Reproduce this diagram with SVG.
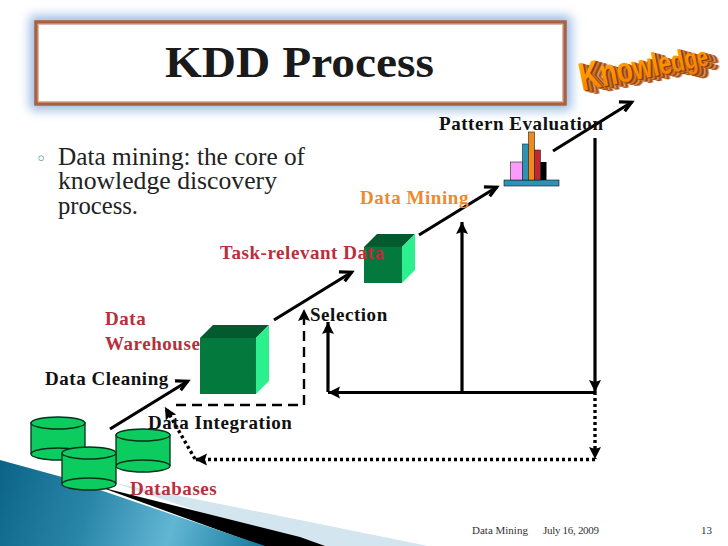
<svg xmlns="http://www.w3.org/2000/svg" xmlns:xlink="http://www.w3.org/1999/xlink" width="728" height="546" viewBox="0 0 728 546">
<style>
.lbl{font-family:"Liberation Serif","Times New Roman",serif;font-weight:700;font-size:19px;letter-spacing:.55px;fill:#111}
.red{fill:#b5303a}
.body{font-family:"Liberation Serif",serif;font-size:24.5px;fill:#222}
.foot{font-family:"Liberation Serif",serif;font-size:11px;fill:#333}
.cyl{fill:#0ccb5f;stroke:#06301a;stroke-width:1.3}
.line{fill:none;stroke:#000;stroke-width:3.2}
.open{marker-end:url(#open)}
.solid{marker-end:url(#solid)}
.dot{stroke-dasharray:3 3;stroke-width:3.4}
.dash{stroke-dasharray:10 6;stroke-width:2.4}
</style>
<defs>
<marker id="open" markerUnits="userSpaceOnUse" markerWidth="24" markerHeight="24" refX="19" refY="12" orient="auto"><path d="M8 5L18.500 12L8 16" fill="none" stroke="#000" stroke-width="3.2"/></marker>
<marker id="solid" markerUnits="userSpaceOnUse" markerWidth="14" markerHeight="14" refX="12" refY="7" orient="auto"><path d="M0 1L12 7L0 13L2 7Z" fill="#000"/></marker>
<filter id="glow" x="-10%" y="-30%" width="120%" height="160%"><feGaussianBlur stdDeviation="5.500"/></filter>
<linearGradient id="swoosh" x1="0" y1="460" x2="270" y2="546" gradientUnits="userSpaceOnUse"><stop offset="0" stop-color="#0b6488"/><stop offset=".35" stop-color="#2a86a8"/><stop offset=".65" stop-color="#62b6d4"/><stop offset="1" stop-color="#0f7598"/></linearGradient>
<linearGradient id="face" x1="0" y1="0" x2="0" y2="1"><stop offset="0" stop-color="#ffb020"/><stop offset=".5" stop-color="#ff9400"/><stop offset="1" stop-color="#f07800"/></linearGradient>
<text id="kw" x="0" y="0" font-family="Liberation Sans,Arial,sans-serif" font-weight="700" textLength="130" lengthAdjust="spacingAndGlyphs"><tspan font-size="40">K</tspan><tspan font-size="38">n</tspan><tspan font-size="36">o</tspan><tspan font-size="35">w</tspan><tspan font-size="33">l</tspan><tspan font-size="32">e</tspan><tspan font-size="30">d</tspan><tspan font-size="29">g</tspan><tspan font-size="27">e</tspan></text>
</defs>
<rect width="728" height="546" fill="#fff"/>

<g id="swoosh-band">
<path d="M115 483L300 520L428 546L300 546Z" fill="#d3e5ee"/>
<path d="M100 487L300 537L325 546L262 546Z" fill="#000"/>
<path d="M0 460L62 477L100 490L265 546L0 546Z" fill="url(#swoosh)"/>
</g>

<g id="title">
<rect x="30" y="16" width="541" height="94" fill="#7aa6dc" opacity=".8" filter="url(#glow)"/>
<rect x="36" y="22" width="529" height="82" fill="#fff" stroke="#a9613f" stroke-width="3.5"/>
<rect x="38.500" y="24.500" width="524" height="77" fill="none" stroke="#d9b9a5" stroke-width="1"/>
<text x="165" y="77" font-family="Liberation Serif,serif" font-weight="700" font-size="45" fill="#1a1a1a" textLength="269" lengthAdjust="spacingAndGlyphs">KDD Process</text>
</g>

<g id="bullet">
<text x="36" y="165" font-family="DejaVu Sans,sans-serif" font-size="18" fill="#2f86a6">◦</text>
<text class="body" x="58" y="165" textLength="247" lengthAdjust="spacingAndGlyphs">Data mining: the core of</text>
<text class="body" x="58" y="189" textLength="219" lengthAdjust="spacingAndGlyphs">knowledge discovery</text>
<text class="body" x="58" y="214" textLength="80" lengthAdjust="spacingAndGlyphs">process.</text>
</g>

<g id="label-warehouse">
<text class="lbl red" x="105" y="325">Data</text>
<text class="lbl red" x="105" y="350">Warehouse</text>
</g>

<g id="connectors">
<path class="line open" d="M110 429L188 381"/>
<path class="line open" d="M274 320L352 272"/>
<path class="line open" d="M419 235L497 187"/>
<path class="line open" d="M553 151L632 102"/>
<path class="line dash solid" d="M176 405H304V309"/>
<path class="line solid" d="M595 392.500H328"/>
<path class="line solid" d="M328 392V322"/>
<path class="line solid" d="M462 392V222"/>
<path class="line solid" d="M595 138V392"/>
<path class="line dot solid" d="M595 392V459"/>
<path class="line dot solid" d="M595 459.500H195"/>
<path class="line dot solid" d="M195 459L165 407"/>
</g>

<g id="databases">
<g id="db1"><path class="cyl" d="M31 423V454A27 6 0 0 0 85 454V423Z"/><ellipse class="cyl" cx="58" cy="423" rx="27" ry="6"/><path d="M31 454A27 6 0 0 1 85 454" fill="none" stroke="#06301a" stroke-width="1.300"/></g>
<g id="db3"><path class="cyl" d="M116 435V466A27 6 0 0 0 170 466V435Z"/><ellipse class="cyl" cx="143" cy="435" rx="27" ry="6"/><path d="M116 466A27 6 0 0 1 170 466" fill="none" stroke="#06301a" stroke-width="1.300"/></g>
<g id="db2"><path class="cyl" d="M62 453V484A27 6 0 0 0 116 484V453Z"/><ellipse class="cyl" cx="89" cy="453" rx="27" ry="6"/><path d="M62 484A27 6 0 0 1 116 484" fill="none" stroke="#06301a" stroke-width="1.300"/></g>
</g>

<g id="warehouse">
<rect x="200" y="338" width="56" height="56" fill="#04793e"/>
<path d="M200 338L213 325H269L256 338Z" fill="#035a2e"/>
<path d="M256 338L269 325V381L256 394Z" fill="#2cf08e"/>
</g>

<g id="task-data">
<rect x="364" y="247" width="38" height="36" fill="#04793e"/>
<path d="M364 247L377 234H415L402 247Z" fill="#035a2e"/>
<path d="M402 247L415 234V270L402 283Z" fill="#2cf08e"/>
</g>

<g id="chart">
<rect x="504" y="180" width="55" height="6" fill="#2b93b5" stroke="#111" stroke-width=".6"/>
<rect x="510.500" y="162" width="12" height="18" fill="#fa9cfb" stroke="#222" stroke-width=".6"/>
<rect x="522.500" y="144" width="6" height="36" fill="#2b93b5" stroke="#222" stroke-width=".6"/>
<rect x="528.500" y="132" width="6" height="48" fill="#f08a1e" stroke="#222" stroke-width=".6"/>
<rect x="534.500" y="150" width="6" height="30" fill="#c4262e" stroke="#222" stroke-width=".6"/>
<rect x="540.500" y="162" width="6" height="18" fill="#000"/>
</g>

<g id="knowledge" transform="translate(582 91) rotate(-11.500)">
<use xlink:href="#kw" href="#kw" x="11" y="6" fill="#f0b080"/>
<use xlink:href="#kw" href="#kw" x="10" y="5.500" fill="#b86a30"/>
<use xlink:href="#kw" href="#kw" x="9" y="5" fill="#8a4a20"/>
<use xlink:href="#kw" href="#kw" x="8" y="4.500" fill="#c8763a"/>
<use xlink:href="#kw" href="#kw" x="7" y="4" fill="#e89a60"/>
<use xlink:href="#kw" href="#kw" x="6" y="3.500" fill="#a85420"/>
<use xlink:href="#kw" href="#kw" x="5" y="3" fill="#8a4010"/>
<use xlink:href="#kw" href="#kw" x="4" y="2.500" fill="#c06820"/>
<use xlink:href="#kw" href="#kw" x="3" y="2" fill="#d98030"/>
<use xlink:href="#kw" href="#kw" x="2" y="1.500" fill="#a85418"/>
<use xlink:href="#kw" href="#kw" x="1" y="1" fill="#803808"/>
<use xlink:href="#kw" href="#kw" fill="url(#face)"/>
</g>

<g id="labels">
<text class="lbl" x="45" y="385">Data Cleaning</text>
<text class="lbl" x="148" y="429">Data Integration</text>
<text class="lbl red" x="130" y="495">Databases</text>
<text class="lbl" x="310" y="321">Selection</text>
<text class="lbl red" x="220" y="259">Task-relevant Data</text>
<text class="lbl" x="360" y="204" style="fill:#ef8a2a">Data Mining</text>
<text class="lbl" x="439" y="130">Pattern Evaluation</text>
</g>

<g id="footer">
<text class="foot" x="472" y="534">Data Mining</text>
<text class="foot" x="543" y="534" textLength="56">July 16, 2009</text>
<text class="foot" x="701" y="534">13</text>
</g>
</svg>
